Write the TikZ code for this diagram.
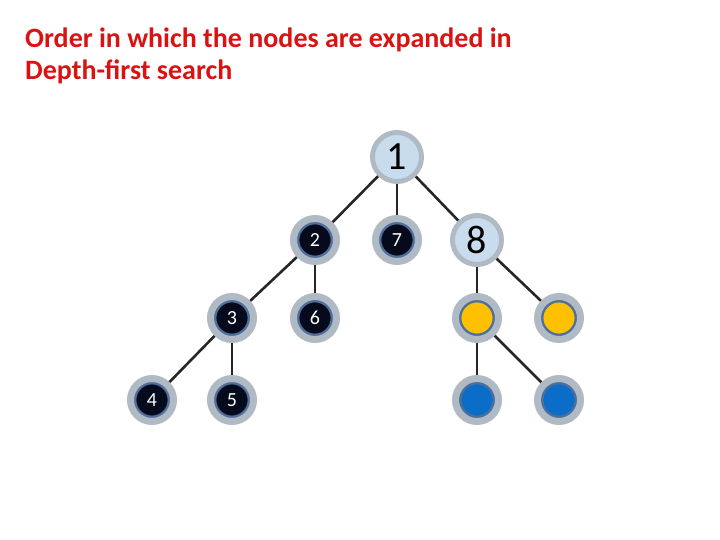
\documentclass[tikz,border=0pt]{standalone}
\usepackage{fontspec}
\setmainfont{Carlito}
\usepackage{xcolor}
\usetikzlibrary{positioning, backgrounds}

\definecolor{titlered}{RGB}{218,18,18}
\definecolor{ringgray}{RGB}{176,186,196}
\definecolor{deepnavy}{RGB}{6,10,26}
\definecolor{rimblue}{RGB}{78,110,155}
\definecolor{paleblue}{RGB}{200,220,237}
\definecolor{goldfill}{RGB}{255,192,0}
\definecolor{deepblue}{RGB}{10,110,200}

\begin{document}
\begin{tikzpicture}[
    x=1pt, y=-1pt,
    vert/.style={circle, minimum size=43pt, inner sep=0pt, line width=7pt, draw=ringgray,
      path picture={\draw[rimblue, line width=2.8pt] (path picture bounding box.center) circle (17pt);}},
    visited/.style={vert, fill=deepnavy, text=white, font=\fontsize{20}{20}\selectfont},
    pending/.style={vert, fill=paleblue, text=black, font=\fontsize{40}{40}\selectfont,
      minimum size=49pt, line width=5pt, path picture={}},
    open/.style={vert, fill=goldfill},
    unseen/.style={vert, fill=deepblue},
    link/.style={line width=2.6pt, draw=black!85},
  ]
  \useasboundingbox (0,0) rectangle (720,540);

  % Title
  \node[anchor=west, align=left, text=titlered, font=\bfseries\fontsize{28}{32}\selectfont,
    inner sep=0pt] (title) at (25,56) {Order in which the nodes are expanded in\\Depth-first search};

  % Tree
  \node[pending] (n1) at (397,157) {1};
  \node[visited] (n2) at (315,240) {2};
  \node[visited] (n7) at (397,240) {7};
  \node[pending] (n8) at (477,240) {8};
  \node[visited] (n3) at (232,318) {3};
  \node[visited] (n6) at (315,318) {6};
  \node[visited] (n4) at (152,400) {4};
  \node[visited] (n5) at (232,400) {5};
  \node[open] (y1) at (477,318) {};
  \node[open] (y2) at (559,318) {};
  \node[unseen] (b1) at (477,400) {};
  \node[unseen] (b2) at (559,400) {};

  % Edges
  \begin{scope}[on background layer]
    \draw[link] (n1.center) -- (n2.center);
    \draw[link] (n1.center) -- (n7.center);
    \draw[link] (n1.center) -- (n8.center);
    \draw[link] (n2.center) -- (n3.center);
    \draw[link] (n2.center) -- (n6.center);
    \draw[link] (n3.center) -- (n4.center);
    \draw[link] (n3.center) -- (n5.center);
    \draw[link] (n8.center) -- (y1.center);
    \draw[link] (n8.center) -- (y2.center);
    \draw[link] (y1.center) -- (b1.center);
    \draw[link] (y1.center) -- (b2.center);
  \end{scope}

\end{tikzpicture}
\end{document}
